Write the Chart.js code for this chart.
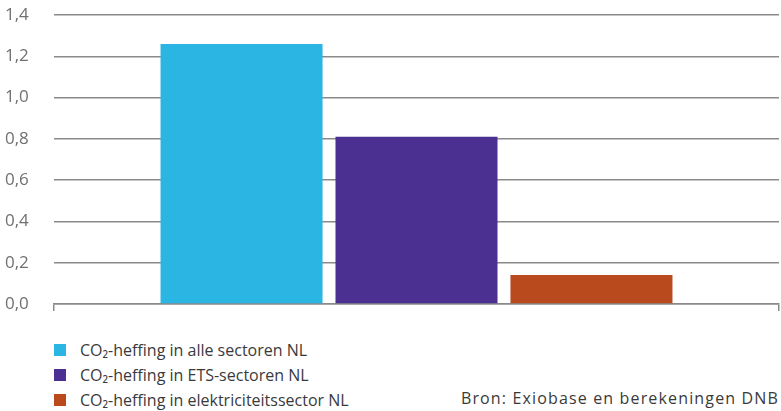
<!DOCTYPE html>
<html><head><meta charset="utf-8">
<script src="https://cdn.jsdelivr.net/npm/chart.js@4/dist/chart.umd.min.js"></script>
<style>
html,body{margin:0;padding:0;background:#fff;}
#wrap{position:relative;width:781px;height:411px;font-family:"Open Sans",sans-serif;}
#cv{position:absolute;left:0;top:0;}
#legend{position:absolute;left:54px;top:337px;}
.li{display:flex;align-items:center;height:25px;font-size:16px;color:#3a3a3a;}
.sw{width:12px;height:12px;margin-right:14px;}
#src{position:absolute;right:2px;top:387px;font-size:16px;letter-spacing:1.15px;color:#3a3a3a;}
</style></head><body>
<div id="wrap">
<canvas id="cv" width="781" height="320"></canvas>
<div id="legend"></div>
<div id="src">Bron: Exiobase en berekeningen DNB</div>
</div>
<script>
const categories = [''];
const seriesNames = ['CO₂-heffing in alle sectoren NL','CO₂-heffing in ETS-sectoren NL','CO₂-heffing in elektriciteitssector NL'];
const seriesValues = [[1.26],[0.81],[0.14]];
const seriesColors = ['#2bb5e3','#4b2f91','#b94a1e'];
const yTicks = [0,0.2,0.4,0.6,0.8,1.0,1.2,1.4];

const datasets = seriesNames.map((n,i)=>({label:n,data:seriesValues[i],backgroundColor:seriesColors[i],borderWidth:0,categoryPercentage:0.724,barPercentage:0.926}));
new Chart(document.getElementById('cv'),{
  type:'bar',
  data:{labels:categories,datasets},
  options:{
    responsive:false,animation:false,
    layout:{padding:{top:15,right:2,bottom:6,left:5}},
    plugins:{legend:{display:false},tooltip:{enabled:false}},
    scales:{
      x:{
        grid:{display:true,drawOnChartArea:false,drawTicks:true,tickLength:7,color:'#8a8a8a',lineWidth:1.5,offset:true},
        border:{display:true,color:'#8a8a8a',width:1.5},
        ticks:{display:false},
        afterFit:(s)=>{s.height=10;}
      },
      y:{
        min:0,max:1.4,
        afterBuildTicks:(s)=>{s.ticks=yTicks.map(v=>({value:v}));},
        ticks:{padding:0,crossAlign:'far',color:'#707070',font:{family:'Open Sans',size:17},
          callback:(v)=>v.toFixed(1).replace('.',',')},
        grid:{color:'#8a8a8a',lineWidth:1.5,drawTicks:false},
        border:{display:false},
        afterFit:(s)=>{s.width=49;}
      }
    }
  }
});
const lg=document.getElementById('legend');
seriesNames.forEach((n,i)=>{
  const d=document.createElement('div');d.className='li';
  d.innerHTML='<span class="sw" style="background:'+seriesColors[i]+'"></span><span></span>';
  d.lastChild.textContent=n;lg.appendChild(d);
});
</script>
</body></html>
